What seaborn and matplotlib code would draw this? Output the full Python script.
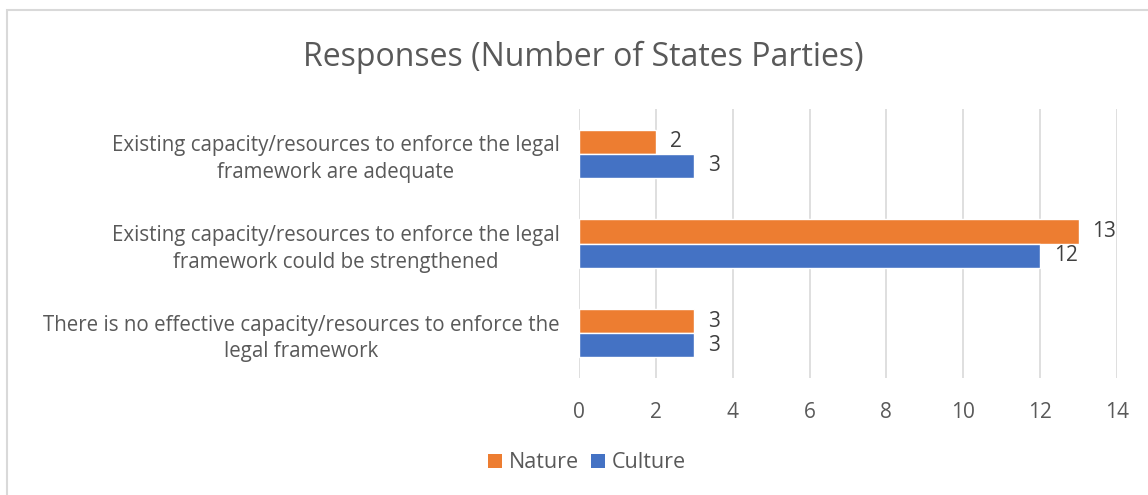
import matplotlib
matplotlib.use("Agg")
import matplotlib.pyplot as plt
import seaborn as sns
import pandas as pd
from matplotlib.patches import Rectangle, Patch

categories = [
    "Existing capacity/resources to enforce the legal\nframework are adequate",
    "Existing capacity/resources to enforce the legal\nframework could be strengthened",
    "There is no effective capacity/resources to enforce the\nlegal framework",
]
nature = [2, 13, 3]
culture = [3, 12, 3]
series = ["Nature", "Culture"]
colors = ["#ED7D31", "#4472C4"]
xticks = [0, 2, 4, 6, 8, 10, 12, 14]

df = pd.DataFrame({
    "Category": categories * 2,
    "Series": ["Nature"] * 3 + ["Culture"] * 3,
    "Value": nature + culture,
})

sns.set_theme(style="white")
plt.rcParams["font.family"] = ["Open Sans", "DejaVu Sans"]
text_color = "#595959"

fig = plt.figure(figsize=(11.48, 4.95), dpi=100)
ax = fig.add_axes([579 / 1148, 1 - 378 / 495, (1117 - 579) / 1148, (378 - 109) / 495])

sns.barplot(data=df, y="Category", x="Value", hue="Series", hue_order=series,
            order=categories, palette=colors, orient="h", width=0.54, gap=0,
            saturation=1, ax=ax, legend=False)

for cont in ax.containers:
    ax.bar_label(cont, padding=10, fontsize=15, color="#404040")

ax.set_xlim(0, 14)
ax.set_ylim(2.5, -0.5)
ax.set_xticks(xticks)
ax.set_xticklabels([str(t) for t in xticks], fontsize=15, color=text_color)
ax.tick_params(axis="x", length=0, pad=17)
ax.tick_params(axis="y", length=0, pad=14)
for lbl in ax.get_yticklabels():
    lbl.set_fontsize(14.8)
    lbl.set_color(text_color)
    lbl.set_multialignment("center")
    lbl.set_linespacing(1.35)
ax.set_xlabel("")
ax.set_ylabel("")
ax.grid(axis="x", color="#D9D9D9", linewidth=1.2)
ax.set_axisbelow(True)
for s in ax.spines.values():
    s.set_visible(False)

fig.text(583 / 1148, 1 - 57 / 495, "Responses (Number of States Parties)",
         ha="center", va="center", fontsize=23, color=text_color)

handles = [Patch(facecolor=c, edgecolor="none") for c in colors]
fig.legend(handles, series, loc="center", bbox_to_anchor=(587 / 1148, 1 - 463 / 495),
           ncol=2, frameon=False, fontsize=15.5, handlelength=0.65, handleheight=0.65,
           handletextpad=0.3, columnspacing=0.6, labelcolor=text_color)

fig.patches.append(Rectangle((7 / 1148, -0.1), 1.2, 1 - 10 / 495 + 0.1,
                             transform=fig.transFigure, fill=False,
                             edgecolor="#D9D9D9", linewidth=1.5))

fig.savefig("out.png", dpi=100)
